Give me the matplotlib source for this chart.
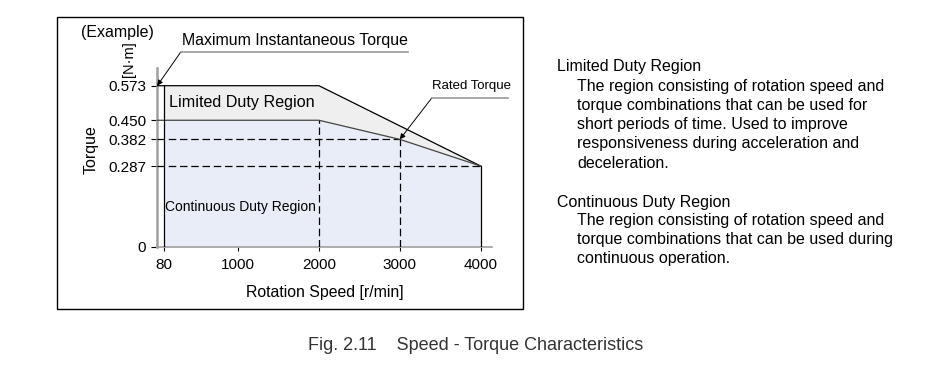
import matplotlib
matplotlib.use('Agg')
import matplotlib.pyplot as plt
from matplotlib.patches import Rectangle

plt.rcParams['font.family'] = ['Liberation Sans', 'DejaVu Sans']

# data
speed_ticks = [80, 1000, 2000, 3000, 4000]
torque_ticks = [0, 0.287, 0.382, 0.450, 0.573]
torque_labels = ['0', '0.287', '0.382', '0.450', '0.573']

limited_speed = [80, 2000, 4000]
limited_torque = [0.573, 0.573, 0.287]
continuous_speed = [80, 2000, 3000, 4000]
continuous_torque = [0.450, 0.450, 0.382, 0.287]

rated_speed = 3000
rated_torque = 0.382
max_torque = 0.573

W, H = 947, 371
fig = plt.figure(figsize=(W / 100, H / 100), dpi=100)


def px(x, y):
    return x / W, 1 - y / H


ax = fig.add_axes([157.2 / W, 1 - 246.7 / H, (492 - 157.2) / W, (246.7 - 68) / H])
ax.set_xlim(0, 4140)
ax.set_ylim(0, 0.636)

# fills
ax.fill_between(limited_speed, limited_torque, 0, color='#efefef', lw=0, zorder=1)
ax.fill_between(continuous_speed, continuous_torque, 0, color='#e9edf7', lw=0, zorder=2)

lw = 0.9
ax.plot([0] + limited_speed, [max_torque] + limited_torque, color='black', lw=lw, zorder=4)
ax.plot([0] + continuous_speed, [0.450] + continuous_torque, color='#444444', lw=lw, zorder=4)
ax.plot([80, 80], [0, max_torque], color='black', lw=lw, zorder=4)
ax.plot([4000, 4000], [0, 0.287], color='black', lw=lw, zorder=4)

dash = dict(color='black', lw=lw, linestyle=(0, (6, 3)), zorder=3)
ax.plot([0, rated_speed], [rated_torque, rated_torque], **dash)
ax.plot([0, 4000], [0.287, 0.287], **dash)
ax.plot([2000, 2000], [0, 0.450], **dash)
ax.plot([rated_speed, rated_speed], [0, rated_torque], **dash)

for side in ('top', 'right'):
    ax.spines[side].set_visible(False)
ax.spines['left'].set_color('#a0a0a0')
ax.spines['left'].set_linewidth(1.8)
ax.spines['bottom'].set_color('#a0a0a0')
ax.spines['bottom'].set_linewidth(1.2)
ax.set_facecolor('none')

ax.set_xticks(speed_ticks)
ax.set_xticklabels([str(s) for s in speed_ticks], fontsize=11)
ax.set_yticks(torque_ticks)
ax.set_yticklabels(torque_labels, fontsize=11)
ax.tick_params(axis='x', length=3, width=0.8, pad=5)
ax.tick_params(axis='y', length=4, width=0.8, pad=4)

# labels inside the plot
ax.text(150, 0.512, 'Limited Duty Region', fontsize=11.6, va='center', ha='left', zorder=5)
ax.text(95, 0.142, 'Continuous Duty Region', fontsize=10,
        va='center', ha='left', zorder=5)

# annotations with underline leaders
fig.text(*px(182, 41), 'Maximum Instantaneous Torque', fontsize=11.4, va='center', ha='left')
fig.add_artist(plt.Line2D([181 / W, 408 / W], [1 - 51.7 / H] * 2, color='#999999', lw=1.2))
ax.annotate('', xy=(0, max_torque), xycoords='data',
            xytext=px(181, 51.7), textcoords='figure fraction',
            arrowprops=dict(arrowstyle='-|>', color='black', lw=0.7, mutation_scale=8,
                            shrinkA=0, shrinkB=0))

fig.text(*px(432, 86), 'Rated Torque', fontsize=9.5, va='center', ha='left')
fig.add_artist(plt.Line2D([432 / W, 508 / W], [1 - 97.7 / H] * 2, color='#999999', lw=1.2))
ax.annotate('', xy=(rated_speed, rated_torque), xycoords='data',
            xytext=px(432, 97.7), textcoords='figure fraction',
            arrowprops=dict(arrowstyle='-|>', color='black', lw=0.7, mutation_scale=8,
                            shrinkA=0, shrinkB=0))

# axis titles
fig.text(*px(117, 32), '(Example)', fontsize=11.5, va='center', ha='center')
fig.text(*px(129, 59), '[N·m]', fontsize=10.5, rotation=90, va='center', ha='center')
fig.text(*px(91, 150), 'Torque', fontsize=11.5, rotation=90, va='center', ha='center')
fig.text(*px(324.5, 292), 'Rotation Speed [r/min]', fontsize=11.4, va='center', ha='center')

# frame round the chart
fig.add_artist(Rectangle((56.7 / W, 1 - 309 / H), (523 - 56.7) / W, (309 - 17) / H,
                         transform=fig.transFigure, fill=False, ec='black', lw=1.0))

# explanation on the right
right_lines = [
    (556.7, 67, 'Limited Duty Region'),
    (577, 86.5, 'The region consisting of rotation speed and'),
    (577, 105.5, 'torque combinations that can be used for'),
    (577, 124.5, 'short periods of time. Used to improve'),
    (577, 143.5, 'responsiveness during acceleration and'),
    (577, 163, 'deceleration.'),
    (556.7, 202, 'Continuous Duty Region'),
    (577, 221, 'The region consisting of rotation speed and'),
    (577, 240, 'torque combinations that can be used during'),
    (577, 259, 'continuous operation.'),
]
for x, y, s in right_lines:
    fig.text(*px(x, y), s, fontsize=11.5, va='center', ha='left')

fig.text(*px(307.7, 346), 'Fig. 2.11    Speed - Torque Characteristics', fontsize=13,
         color='#333333', va='center', ha='left')

fig.savefig('out.png', dpi=100)
